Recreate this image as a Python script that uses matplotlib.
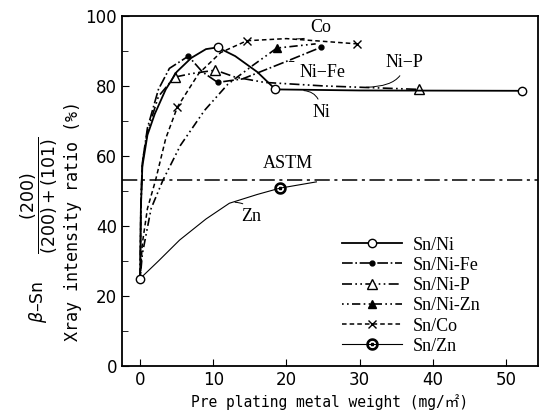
import matplotlib
matplotlib.use("Agg")
import matplotlib.pyplot as plt

# values (curve shape points included)
ni_x = [0, 0.1, 0.3, 1, 2, 3.5, 5, 7, 9, 10.6, 13, 16, 18.5, 30, 52.2]
ni_y = [25, 45, 57, 66, 72, 79, 84, 88, 90.5, 91, 88.5, 84, 79, 78.7, 78.6]
ni_mk = [0, 9, 12, 14]

nife_x = [0, 0.1, 0.3, 1, 2.5, 4, 6.6, 8.5, 10.6, 14, 20, 24.7]
nife_y = [25, 45, 58, 68, 79, 85, 88.5, 84, 81, 82, 87, 91]
nife_mk = [6, 8, 11]

nip_x = [0, 0.1, 0.3, 1, 2.5, 4.7, 7, 10.3, 13, 17, 25, 38.1]
nip_y = [25, 46, 58, 67, 77, 82.5, 83.5, 84.5, 82.5, 81, 80, 79]
nip_mk = [5, 7, 11]

nizn_x = [0, 0.3, 1.5, 3.1, 5.5, 8.8, 12, 15.5, 18.7, 24]
nizn_y = [25, 32, 45, 53, 63, 73, 80.5, 86, 90.8, 92]
nizn_mk = [8]

co_x = [0, 0.3, 1, 2.1, 3.5, 5.1, 8, 11, 14.6, 20, 29.7]
co_y = [25, 35, 45, 53, 65, 74, 83.5, 89.5, 92.9, 93.5, 92]
co_mk = [5, 8, 10]

zn_x = [0, 2.5, 5.4, 9, 12.2, 16, 19.1, 24.1]
zn_y = [25, 30, 36, 42, 46.5, 49, 50.8, 52.6]
zn_mk = [6]

astm_y = 53

fig = plt.figure(figsize=(5.44, 4.17), dpi=100)
ax = fig.add_axes([0.224, 0.122, 0.765, 0.84])

ax.plot(ni_x, ni_y, color='black', lw=1.3, ls='-', marker='o', mfc='white',
        ms=6, markevery=ni_mk, label='Sn/Ni', zorder=4)
ax.plot(nife_x, nife_y, color='black', lw=1.2, ls='-.', marker='o', ms=3.5,
        markevery=nife_mk, label='Sn/Ni-Fe')
ax.plot(nip_x, nip_y, color='black', lw=1.2, ls=(0, (6, 2, 1, 2, 1, 2)), marker='^',
        mfc='white', ms=7, markevery=nip_mk, label='Sn/Ni-P')
ax.plot(nizn_x, nizn_y, color='black', lw=1.2, ls=(0, (1, 2, 1, 2, 5, 2)), marker='^',
        ms=6, markevery=nizn_mk, label='Sn/Ni-Zn')
ax.plot(co_x, co_y, color='black', lw=1.1, ls=(0, (3, 2)), marker='x', ms=6,
        markevery=co_mk, label='Sn/Co')
ax.plot(zn_x, zn_y, color='black', lw=0.8, ls='-', marker='$\\odot$', ms=8,
        markevery=zn_mk, label='Sn/Zn')

ax.axhline(astm_y, color='black', lw=1.1, ls=(0, (10, 3, 2, 3)))
ax.text(20.2, 56.5, 'ASTM', family='Liberation Serif', fontsize=13, ha='center')

lbl = dict(family='Liberation Serif', fontsize=13)
arr = dict(arrowstyle='-', lw=0.7, color='black', connectionstyle='angle3')
ax.annotate('Co', xy=(21, 93.4), xytext=(23.2, 95.5), arrowprops=arr, **lbl)
ax.annotate('Ni\u2212Fe', xy=(20, 87), xytext=(21.8, 82.5), arrowprops=arr, **lbl)
ax.annotate('Ni\u2212P', xy=(30.5, 79.6), xytext=(33.5, 85.5), arrowprops=arr, **lbl)
ax.annotate('Ni', xy=(22, 78.7), xytext=(23.5, 71), arrowprops=arr, **lbl)
ax.annotate('Zn', xy=(12.6, 46.8), xytext=(13.8, 41.5), arrowprops=arr, **lbl)

ax.set_xlim(-2.5, 54.4)
ax.set_ylim(0, 100)
ax.set_xticks(range(0, 51, 10))
ax.set_yticks(range(0, 101, 20))
ax.set_yticks(range(10, 100, 20), minor=True)
ax.tick_params(direction='in', labelsize=12, length=5)
ax.tick_params(which='minor', direction='in', length=4)
for s in ax.spines.values():
    s.set_linewidth(1.3)

leg = ax.legend(loc='upper left', bbox_to_anchor=(0.53, 0.37), frameon=False,
                handlelength=3.3, handletextpad=0.6, labelspacing=0.18,
                borderpad=0, borderaxespad=0,
                prop={'family': 'Liberation Serif', 'size': 13})

mono = ['DejaVu Sans Mono', 'Noto Sans CJK JP']
ax.set_xlabel('Pre plating metal weight (mg/\u33a1)', family=mono,
              fontsize=10.5, labelpad=4)
fig.text(0.135, 0.47, 'Xray intensity ratio (%)', rotation=90, ha='center', va='center',
         family=mono, fontsize=12)
fig.text(0.072, 0.448, '$\\beta$\u2013Sn     $\\dfrac{(200)}{(200)+(101)}$',
         rotation=90, ha='center', va='center', fontsize=12.5)

fig.savefig('out.png', dpi=100)
